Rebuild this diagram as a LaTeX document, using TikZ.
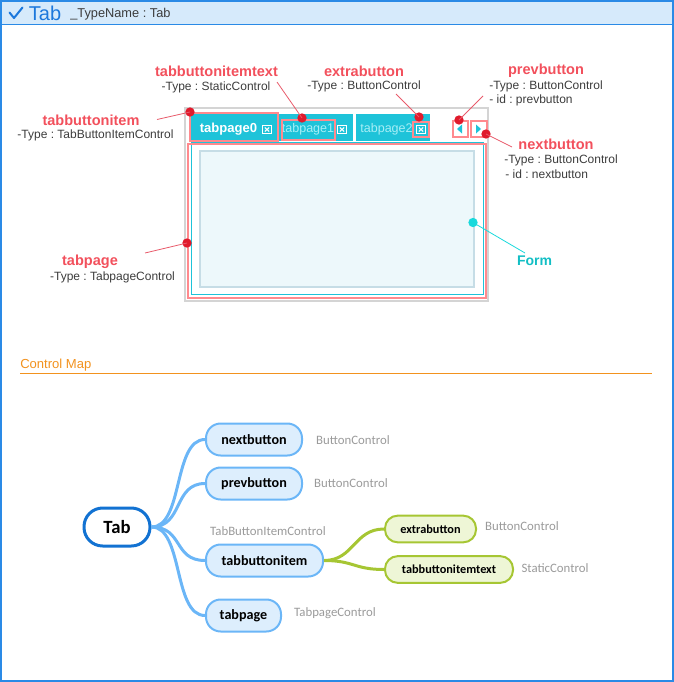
\documentclass[tikz,border=0pt]{standalone}
\usepackage{fontspec}
\setmainfont{Liberation Sans}
\newfontfamily\mapfont{Carlito}
\frenchspacing
\definecolor{frameblue}{HTML}{2A8AE6}
\definecolor{headbg}{HTML}{D6EAFB}
\definecolor{titleblue}{HTML}{1C78DC}
\definecolor{darktext}{HTML}{3C3C3C}
\definecolor{greyframe}{HTML}{D4D4D4}
\definecolor{tabcyan}{HTML}{1EC3D9}
\definecolor{tablight}{HTML}{A6EEF6}
\definecolor{salmon}{HTML}{FF8A8E}
\definecolor{dotred}{HTML}{E01A2C}
\definecolor{callred}{HTML}{E85A6A}
\definecolor{lblred}{HTML}{F2505C}
\definecolor{formfill}{HTML}{EDF8FB}
\definecolor{formedge}{HTML}{C6DDE6}
\definecolor{formcyan}{HTML}{19D9DC}
\definecolor{formtext}{HTML}{12BEC4}
\definecolor{maporange}{HTML}{F2921E}
\definecolor{rootblue}{HTML}{1272D2}
\definecolor{branchblue}{HTML}{6BB6F7}
\definecolor{nodeblue}{HTML}{DDEEFD}
\definecolor{leafgreen}{HTML}{A6C633}
\definecolor{leaffill}{HTML}{EEF6D6}
\definecolor{typegrey}{HTML}{9A9A9A}
\begin{document}
\begin{tikzpicture}[x=0.75pt,y=-0.75pt,
  lbl/.style={text=lblred,font=\fontsize{10.9}{12}\selectfont\bfseries,inner sep=0pt},
  sub/.style={text=darktext,font=\fontsize{9}{11}\selectfont,inner sep=0pt},
  reddot/.style={circle,fill=dotred,inner sep=0pt,minimum size=7pt},
  callout/.style={callred,line width=0.6pt},
  pinkbox/.style={salmon,line width=1.5pt},
  branch/.style={branchblue,line width=2.25pt},
  leafline/.style={leafgreen,line width=2.25pt},
  mapnode/.style={draw=branchblue,fill=nodeblue,line width=1.5pt,rounded corners=11pt,
    minimum height=24pt,inner sep=0pt,font=\mapfont\fontsize{10.6}{12}\selectfont\bfseries},
  leafnode/.style={draw=leafgreen,fill=leaffill,line width=1.5pt,rounded corners=9.5pt,
    minimum height=20pt,inner sep=0pt,font=\mapfont\fontsize{9.2}{11}\selectfont\bfseries},
  typelbl/.style={text=typegrey,font=\mapfont\fontsize{9.6}{11}\selectfont,inner sep=0pt},
  closeicon/.pic={
    \draw[white,line width=0.75pt] (-4.5,-4) rectangle (4.5,4);
    \draw[white,line width=0.75pt] (-2.2,-2) -- (2.2,2) (-2.2,2) -- (2.2,-2);
  }]
\useasboundingbox (0,0) rectangle (674,682);

% header band and outer frame
\fill[headbg] (0,0) rectangle (674,24);
\draw[frameblue,line width=0.75pt] (0,24.5) -- (674,24.5);
\draw[frameblue,line width=1.5pt] (1,1) rectangle (673,681);
\draw[titleblue,line width=1.5pt,line cap=round,line join=round] (9.5,12.5) -- (14,18) -- (22.5,7.5);
\node[text=titleblue,font=\fontsize{15}{17}\selectfont,inner sep=0pt] (title) at (45,13) {Tab};
\node[text=darktext,font=\fontsize{9.6}{11}\selectfont,inner sep=0pt,anchor=west] (typename) at (70,14) {\_TypeName : Tab};

% tab control mock-up
\draw[greyframe,line width=1.5pt] (185,108) rectangle (488,300.5);
\fill[tabcyan] (191,113.5) rectangle (277,141);
\fill[tabcyan] (279,113.5) rectangle (353,141);
\fill[tabcyan] (356,113.5) rectangle (430,141);
\node[text=white,font=\fontsize{9.8}{11}\selectfont\bfseries,inner sep=0pt] (tp0) at (228.5,129) {tabpage0};
\node[text=tablight,font=\fontsize{9.4}{11}\selectfont,inner sep=0pt] (tp1) at (308,129) {tabpage1};
\node[text=tablight,font=\fontsize{9.4}{11}\selectfont,inner sep=0pt] (tp2) at (386.5,129) {tabpage2};
\pic at (267,129.5) {closeicon};
\pic at (342,129.5) {closeicon};
\pic at (421,129.5) {closeicon};
\draw[pinkbox] (190,112.5) rectangle (278,141);
\draw[pinkbox] (281.5,119.5) rectangle (335,140);
\draw[pinkbox] (412.5,122) rectangle (429,136.5);
% scroll buttons
\draw[pinkbox] (452.5,121) rectangle (467.5,137);
\draw[pinkbox] (471,121) rectangle (486.5,137);
\fill[tabcyan] (457,129) -- (462,124.5) -- (462,133.5) -- cycle;
\fill[tabcyan] (476,124.5) -- (481,129) -- (476,133.5) -- cycle;
% page body and form
\draw[tabcyan,line width=0.75pt] (191.5,142) rectangle (483,294.5);
\draw[pinkbox] (188,143.5) rectangle (485.5,297.5);
\draw[formedge,fill=formfill,line width=1.5pt] (200,150.5) rectangle (474,287);

% callouts
\node[reddot] (d-tbi) at (190,112) {};
\node[reddot] (d-tbt) at (302,118) {};
\node[reddot] (d-ext) at (419,117) {};
\node[reddot] (d-prev) at (459,120) {};
\node[reddot] (d-next) at (486,134) {};
\node[reddot] (d-page) at (187,243) {};
\node[circle,fill=formcyan,inner sep=0pt,minimum size=7pt] (d-form) at (473,222.5) {};

\coordinate (e-tbi) at (157,119.5);
\coordinate (e-tbt) at (277,82);
\coordinate (e-ext) at (396,94);
\coordinate (e-prev) at (483,96);
\coordinate (e-next) at (512,147);
\coordinate (e-page) at (145,253);
\coordinate (e-form) at (525,253);

\draw[callout] (e-tbi) -- (d-tbi.center);
\draw[callout] (e-tbt) -- (d-tbt.center);
\draw[callout] (e-ext) -- (d-ext.center);
\draw[callout] (e-prev) -- (d-prev.center);
\draw[callout] (d-next.center) -- (e-next);
\draw[callout] (e-page) -- (d-page.center);
\draw[formcyan,line width=0.6pt] (d-form.center) -- (e-form);

\node[lbl] (l-tbi) at (91,120) {tabbuttonitem};
\node[sub] (s-tbi) at (95.5,135.5) {-Type : TabButtonItemControl};
\node[lbl] (l-tbt) at (216.5,71) {tabbuttonitemtext};
\node[sub] (s-tbt) at (216,87) {-Type : StaticControl};
\node[lbl] (l-ext) at (364,71) {extrabutton};
\node[sub] (s-ext) at (364,86.5) {-Type : ButtonControl};
\node[lbl] (l-prev) at (546,71) {prevbutton};
\node[sub] (s-prev) at (546,86) {-Type : ButtonControl};
\node[sub,anchor=west] (i-prev) at (489,100.5) {- id : prevbutton};
\node[lbl] (l-next) at (556,144) {nextbutton};
\node[sub] (s-next) at (561,160) {-Type : ButtonControl};
\node[sub,anchor=west] (i-next) at (505,174.5) {- id : nextbutton};
\node[lbl] (l-page) at (90,262) {tabpage};
\node[sub] (s-page) at (112.5,277) {-Type : TabpageControl};
\node[text=formtext,font=\fontsize{10.5}{12}\selectfont\bfseries,inner sep=0pt] (l-form) at (534.5,260.5) {Form};

% control map heading
\node[text=maporange,font=\fontsize{9.8}{11}\selectfont,inner sep=0pt,anchor=west] (maphead) at (20,365.5) {Control Map};
\draw[maporange,line width=0.75pt] (20,373.5) -- (652,373.5);

% control map tree
\node[draw=rootblue,fill=white,line width=2.25pt,rounded corners=14pt,minimum width=49.5pt,
  minimum height=28.5pt,inner sep=0pt,font=\mapfont\fontsize{14}{16}\selectfont\bfseries] (root) at (117,527) {Tab};
\node[mapnode,minimum width=72pt] (nb) at (254,439.5) {nextbutton};
\node[mapnode,minimum width=72pt] (pb) at (254,483.5) {prevbutton};
\node[mapnode,minimum width=87.75pt] (tbi) at (264.5,560.5) {tabbuttonitem};
\node[mapnode,minimum width=56.25pt] (tp) at (243.5,615.5) {tabpage};
\node[leafnode,minimum width=68.25pt] (eb) at (430.5,529) {extrabutton};
\node[leafnode,minimum width=96pt] (tbt) at (449,569.5) {tabbuttonitemtext};

\node[typelbl] (t-nb) at (353,440) {ButtonControl};
\node[typelbl] (t-pb) at (351,483.5) {ButtonControl};
\node[typelbl] (t-tbi) at (268,531.5) {TabButtonItemControl};
\node[typelbl] (t-tp) at (335,613) {TabpageControl};
\node[typelbl] (t-eb) at (522,526) {ButtonControl};
\node[typelbl] (t-tbt) at (555,568.5) {StaticControl};

\foreach \n in {nb,pb,tbi,tp}
  \draw[branch] (root.east) .. controls +(32,0) and +(-32,0) .. (\n.west);
\foreach \n in {eb,tbt}
  \draw[leafline] (tbi.east) .. controls +(30,0) and +(-30,0) .. (\n.west);
\end{tikzpicture}
\end{document}
